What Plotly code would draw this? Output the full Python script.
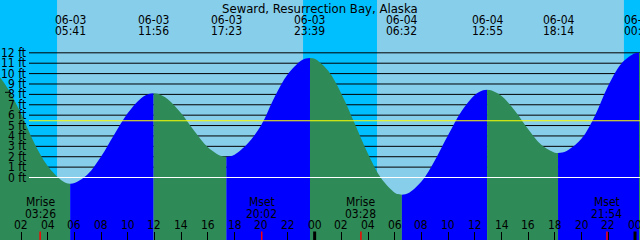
import plotly.graph_objects as go

# ---------------- data (hours since 06-03 00:00, heights in ft) ----------------
sample_hours = [0, 1, 2, 3, 4, 5, 5.383, 6, 7, 8, 9, 10, 11, 11.633, 12.233, 13, 14, 15,
                16, 17, 17.683, 18, 19, 20, 21, 22, 23, 23.35, 24, 25, 26, 27, 28, 29, 30,
                30.233, 31, 32, 33, 34, 35, 36, 36.617, 37.217, 38, 39, 40, 41, 42,
                42.533, 43, 44, 45, 46, 47, 48, 49]
sample_ft = [10.35, 8.6, 6.15, 3.3, 1.1, -0.25, -0.54, -0.54, 0.32, 2.03, 4.17, 6.2, 7.63,
             8.05, 8.05, 7.54, 6.18, 4.45, 2.92, 2.07, 2.05, 2.2, 3.3, 5.05, 7.75, 9.95,
             11.25, 11.45, 11.42, 10.29, 8.07, 5.2, 2.27, -0.1, -1.46, -1.59, -1.52, -0.39,
             1.64, 4.08, 6.37, 7.95, 8.4, 8.4, 7.85, 6.42, 4.64, 3.12, 2.38, 2.4, 2.65,
             3.75, 5.95, 8.85, 11.0, 11.95, 11.7]

extreme_hours = [5.683, 11.933, 17.383, 23.65, 30.533, 36.917, 42.233, 48.3]
extreme_ft = [-0.6, 8.1, 2.0, 11.5, -1.65, 8.45, 2.35, 12.0]
extreme_dates = ["06-03", "06-03", "06-03", "06-03", "06-04", "06-04", "06-04", "06-05"]
extreme_times = ["05:41", "11:56", "17:23", "23:39", "06:32", "12:55", "18:14", "00:18"]

sunrise_hours = [4.70, 28.67]
sunset_hours = [23.13, 47.17]

moon_hours = [3.433, 20.033, 27.467, 45.9]
moon_events = ["Mrise", "Mset", "Mrise", "Mset"]
moon_times = ["03:26", "20:02", "03:28", "21:54"]

tick_hours = list(range(2, 49, 2))
tick_labels = ["02", "04", "06", "08", "10", "12", "14", "16", "18", "20", "22", "00",
               "02", "04", "06", "08", "10", "12", "14", "16", "18", "20", "22", "00"]
midnight_hours = [24, 48]

depth_levels = list(range(0, 13))
mean_level_ft = 5.46
now_level_ft = 8.2
title_text = "Seward, Resurrection Bay, Alaska"

# ---------------- styling ----------------
FONT = "DejaVu Sans Condensed, DejaVu Sans, sans-serif"
DAY = "#87CEEB"
NIGHT = "#00BFFF"
FLOOD = "#0000FF"
EBB = "#2E8B57"
W, H = 640, 240
X0, X1 = 0.4267, 48.373
PXFT = 10.39
ZERO_ROW = 177.5
Y1 = ZERO_ROW / PXFT
Y0 = -(H - ZERO_ROW) / PXFT
LINE_START = 29 / W

fig = go.Figure()
shapes = []
annotations = []

# night bands
night = [(X0 - 1, sunrise_hours[0]), (sunset_hours[0], sunrise_hours[1]), (sunset_hours[1], X1 + 1)]
for a, b in night:
    shapes.append(dict(type="rect", xref="x", yref="paper", x0=a, x1=b, y0=0, y1=1,
                       fillcolor=NIGHT, line=dict(width=0), layer="below"))

# depth lines (under water)
for lv in depth_levels[1:]:
    shapes.append(dict(type="line", xref="paper", yref="y", x0=LINE_START, x1=1, y0=lv, y1=lv,
                       line=dict(color="black", width=1), layer="below"))

# water curve
pts = sorted(list(zip(sample_hours, sample_ft)) + list(zip(extreme_hours, extreme_ft)))
bounds = sorted(set([sample_hours[0]] + extreme_hours + [sample_hours[-1]]))
for a, b in zip(bounds[:-1], bounds[1:]):
    seg = [p for p in pts if a <= p[0] <= b]
    if len(seg) < 2:
        continue
    color = EBB if seg[-1][1] < seg[0][1] else FLOOD
    fig.add_trace(go.Scatter(x=[a, b], y=[Y0 - 2, Y0 - 2], mode="lines",
                             line=dict(width=0), showlegend=False, hoverinfo="skip"))
    fig.add_trace(go.Scatter(x=[p[0] for p in seg], y=[p[1] for p in seg], mode="lines",
                             line=dict(width=0, shape="spline", color=color),
                             fill="tonexty", fillcolor=color,
                             showlegend=False, hoverinfo="skip"))

# mean level and datum lines
shapes.append(dict(type="line", xref="paper", yref="y", x0=LINE_START, x1=1,
                   y0=mean_level_ft, y1=mean_level_ft, line=dict(color="#FFFF00", width=1.2),
                   layer="above"))
shapes.append(dict(type="line", xref="paper", yref="y", x0=LINE_START, x1=1,
                   y0=0, y1=0, line=dict(color="white", width=1.2), layer="above"))
shapes.append(dict(type="line", xref="paper", yref="y", x0=5 / W, x1=11 / W,
                   y0=now_level_ft, y1=now_level_ft, line=dict(color="black", width=1),
                   layer="above"))

# midnight and moon ticks
for t in midnight_hours:
    shapes.append(dict(type="line", xref="x", yref="paper", x0=t, x1=t, y0=0, y1=8.5 / H,
                       line=dict(color="black", width=3), layer="above"))
for t in moon_hours:
    shapes.append(dict(type="line", xref="x", yref="paper", x0=t, x1=t, y0=0, y1=8.5 / H,
                       line=dict(color="red", width=1.5), layer="above"))

def py(pix):
    return 1 - pix / H

tfont = dict(family=FONT, size=12, color="black")
annotations.append(dict(text=title_text, xref="paper", yref="paper", x=0.5, y=py(8.2),
                        xanchor="center", yanchor="middle", showarrow=False,
                        font=dict(family=FONT, size=13, color="black")))
for t, d, tm in zip(extreme_hours, extreme_dates, extreme_times):
    annotations.append(dict(text=d, xref="x", yref="paper", x=t, y=py(19.7), xanchor="center",
                            yanchor="middle", showarrow=False, font=tfont))
    annotations.append(dict(text=tm, xref="x", yref="paper", x=t, y=py(31.5), xanchor="center",
                            yanchor="middle", showarrow=False, font=tfont))
for lv in depth_levels:
    annotations.append(dict(text=f"{lv} ft", xref="paper", yref="y", x=27.5 / W, y=lv,
                            xanchor="right", yanchor="middle", showarrow=False, font=tfont))
for t, lab in zip(tick_hours, tick_labels):
    annotations.append(dict(text=lab, xref="x", yref="paper", x=t, y=py(225.2), xanchor="center",
                            yanchor="middle", showarrow=False, font=tfont))
for t, ev, tm in zip(moon_hours, moon_events, moon_times):
    annotations.append(dict(text=ev, xref="x", yref="paper", x=t, y=py(202), xanchor="center",
                            yanchor="middle", showarrow=False, font=tfont))
    annotations.append(dict(text=tm, xref="x", yref="paper", x=t, y=py(213.8), xanchor="center",
                            yanchor="middle", showarrow=False, font=tfont))

fig.update_layout(
    width=W, height=H, margin=dict(l=0, r=0, t=0, b=0, pad=0),
    plot_bgcolor=DAY, paper_bgcolor=DAY, showlegend=False,
    shapes=shapes, annotations=annotations,
    xaxis=dict(range=[X0, X1], showgrid=False, zeroline=False, showline=False,
               ticks="inside", ticklen=8, tickwidth=1, tickcolor="black",
               tickvals=tick_hours, showticklabels=False, fixedrange=True),
    yaxis=dict(range=[Y0, Y1], showgrid=False, zeroline=False, showline=False,
               showticklabels=False, fixedrange=True),
)
fig.write_html("out.html")
